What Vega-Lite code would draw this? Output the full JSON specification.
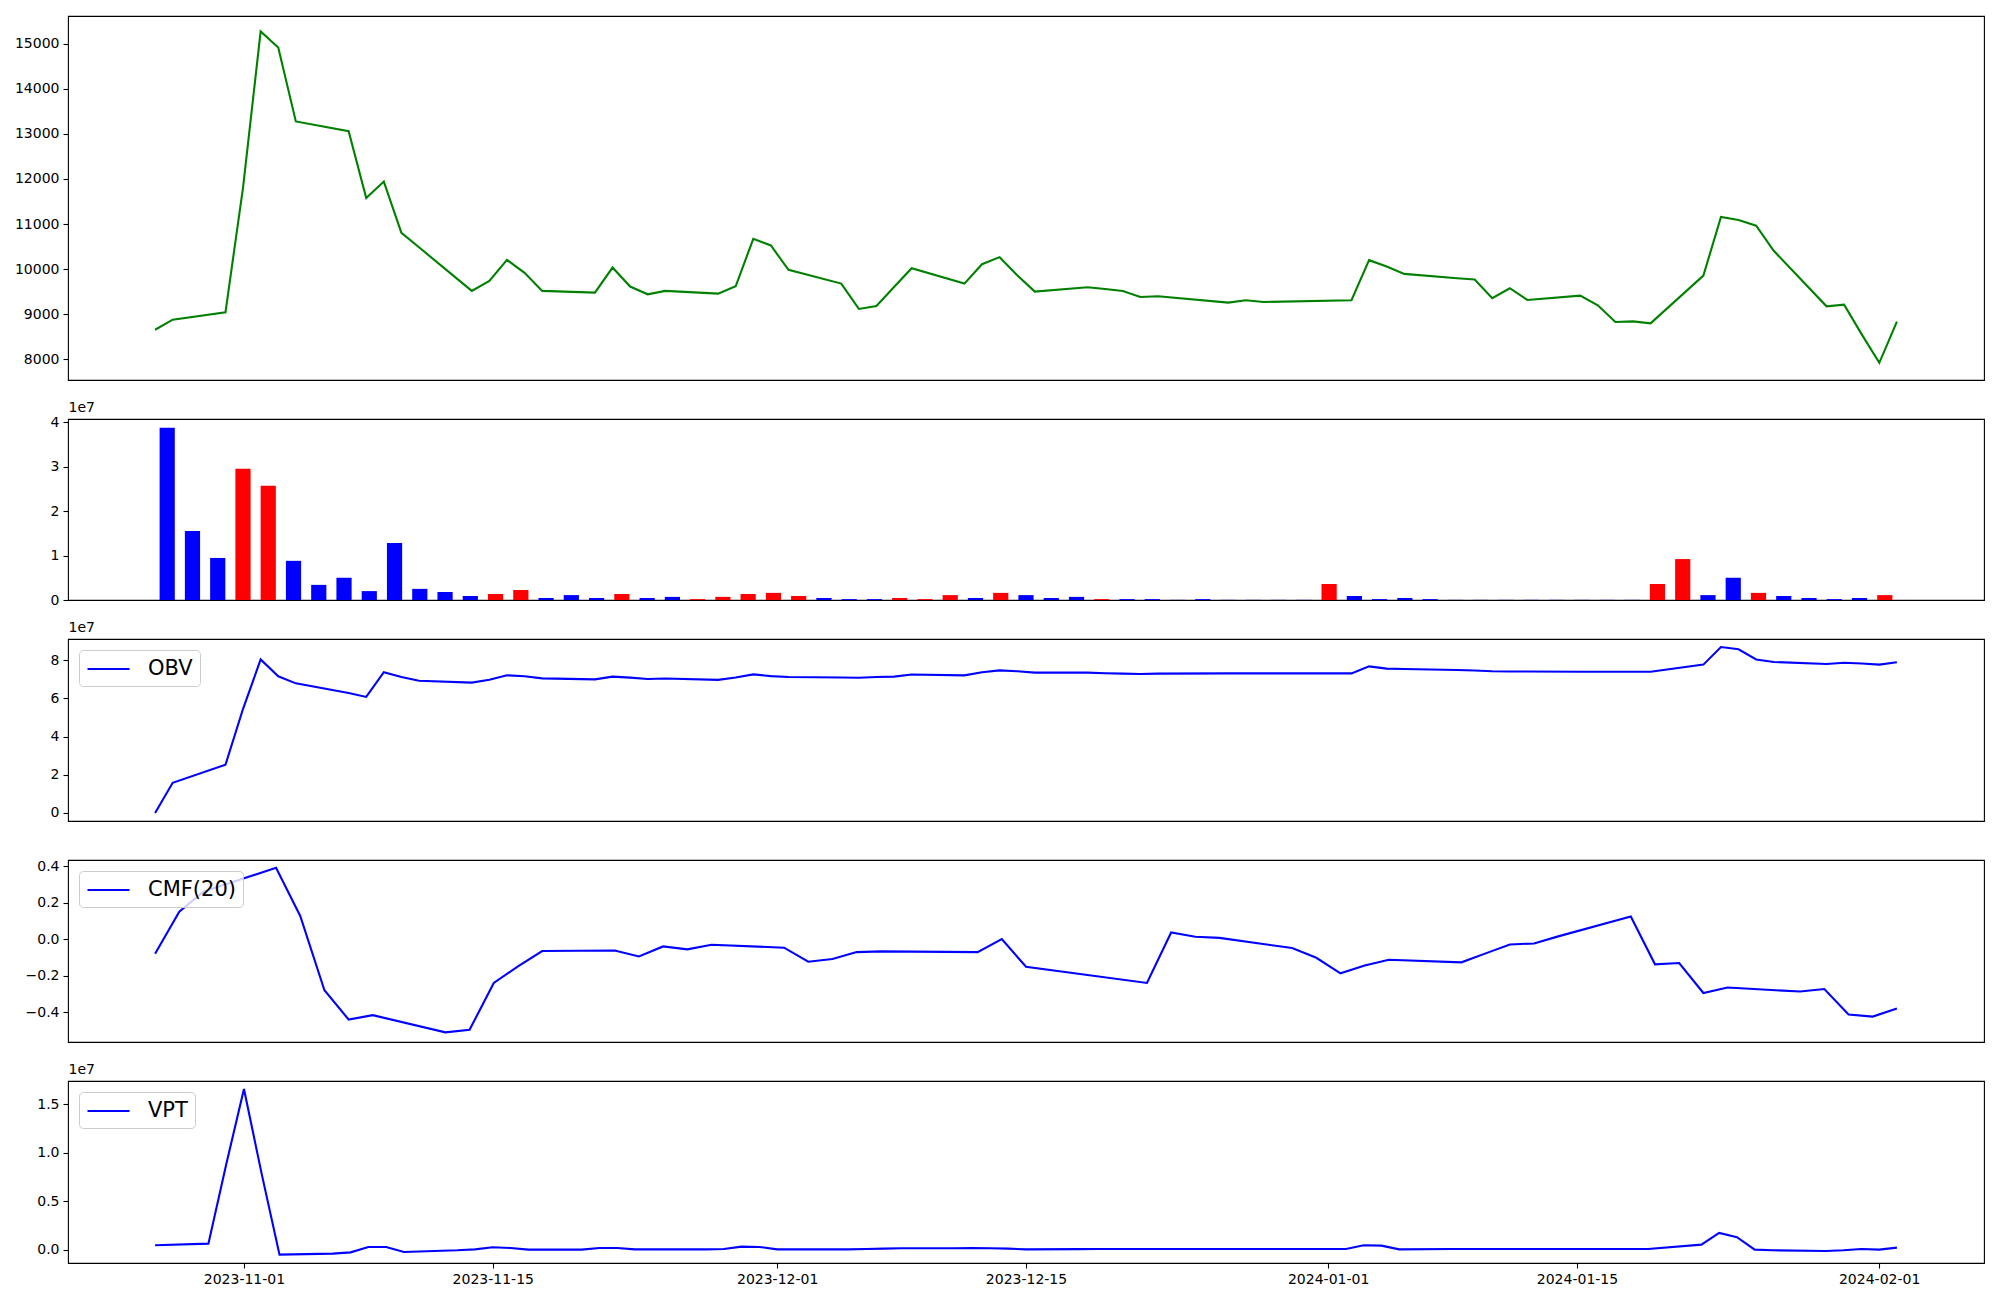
{
"$schema": "https://vega.github.io/schema/vega-lite/v6.json",
"background": "white",
"padding": {"left": 13, "top": 15, "right": 5, "bottom": 5},
"spacing": 39,
"bounds": "flush",
"datasets": {"t": [
{"date":"2023-10-26","close":8659,"volume":38700000,"dir":"down","obv":0,"cmf":null,"vpt":null},
{"date":"2023-10-27","close":8881,"volume":15500000,"dir":"down","obv":15800000,"cmf":null,"vpt":450000},
{"date":"2023-10-30","close":9044,"volume":9450000,"dir":"down","obv":25200000,"cmf":null,"vpt":620000},
{"date":"2023-10-31","close":11815,"volume":29500000,"dir":"up","obv":54500000,"cmf":null,"vpt":8800000},
{"date":"2023-11-01","close":15267,"volume":25700000,"dir":"up","obv":80300000,"cmf":null,"vpt":16600000},
{"date":"2023-11-02","close":14911,"volume":8800000,"dir":"down","obv":71500000,"cmf":null,"vpt":7800000},
{"date":"2023-11-03","close":13274,"volume":3400000,"dir":"down","obv":67800000,"cmf":null,"vpt":-520000},
{"date":"2023-11-06","close":13059,"volume":5000000,"dir":"down","obv":62800000,"cmf":null,"vpt":-410000},
{"date":"2023-11-07","close":11578,"volume":2000000,"dir":"down","obv":60700000,"cmf":null,"vpt":-280000},
{"date":"2023-11-08","close":11941,"volume":12800000,"dir":"down","obv":73600000,"cmf":null,"vpt":280000},
{"date":"2023-11-09","close":10807,"volume":2500000,"dir":"down","obv":71100000,"cmf":null,"vpt":280000},
{"date":"2023-11-10","close":10485,"volume":1800000,"dir":"down","obv":69200000,"cmf":null,"vpt":-240000},
{"date":"2023-11-13","close":9519,"volume":900000,"dir":"down","obv":68200000,"cmf":null,"vpt":-70000},
{"date":"2023-11-14","close":9741,"volume":1350000,"dir":"up","obv":69700000,"cmf":null,"vpt":30000},
{"date":"2023-11-15","close":10207,"volume":2250000,"dir":"up","obv":72000000,"cmf":null,"vpt":240000},
{"date":"2023-11-16","close":9919,"volume":450000,"dir":"down","obv":71500000,"cmf":null,"vpt":170000},
{"date":"2023-11-17","close":9519,"volume":1100000,"dir":"down","obv":70400000,"cmf":null,"vpt":0},
{"date":"2023-11-20","close":9481,"volume":450000,"dir":"down","obv":69900000,"cmf":null,"vpt":0},
{"date":"2023-11-21","close":10037,"volume":1350000,"dir":"up","obv":71300000,"cmf":null,"vpt":170000},
{"date":"2023-11-22","close":9615,"volume":450000,"dir":"down","obv":70800000,"cmf":-0.08,"vpt":170000},
{"date":"2023-11-23","close":9444,"volume":700000,"dir":"down","obv":70100000,"cmf":0.15,"vpt":30000},
{"date":"2023-11-24","close":9519,"volume":200000,"dir":"up","obv":70300000,"cmf":0.26,"vpt":30000},
{"date":"2023-11-27","close":9459,"volume":700000,"dir":"up","obv":69600000,"cmf":0.39,"vpt":30000},
{"date":"2023-11-28","close":9622,"volume":1350000,"dir":"up","obv":70900000,"cmf":0.127,"vpt":70000},
{"date":"2023-11-29","close":10674,"volume":1600000,"dir":"up","obv":72500000,"cmf":-0.28,"vpt":310000},
{"date":"2023-11-30","close":10526,"volume":900000,"dir":"up","obv":71600000,"cmf":-0.44,"vpt":280000},
{"date":"2023-12-01","close":9985,"volume":450000,"dir":"down","obv":71100000,"cmf":-0.416,"vpt":30000},
{"date":"2023-12-04","close":9681,"volume":200000,"dir":"down","obv":70900000,"cmf":-0.51,"vpt":30000},
{"date":"2023-12-05","close":9119,"volume":200000,"dir":"down","obv":70700000,"cmf":-0.496,"vpt":30000},
{"date":"2023-12-06","close":9185,"volume":450000,"dir":"up","obv":71100000,"cmf":-0.24,"vpt":70000},
{"date":"2023-12-07","close":9604,"volume":200000,"dir":"up","obv":71300000,"cmf":-0.149,"vpt":100000},
{"date":"2023-12-08","close":10022,"volume":1100000,"dir":"up","obv":72400000,"cmf":-0.065,"vpt":140000},
{"date":"2023-12-11","close":9681,"volume":450000,"dir":"down","obv":72000000,"cmf":-0.062,"vpt":140000},
{"date":"2023-12-12","close":10111,"volume":1600000,"dir":"up","obv":73600000,"cmf":-0.095,"vpt":170000},
{"date":"2023-12-13","close":10267,"volume":1100000,"dir":"down","obv":74600000,"cmf":-0.04,"vpt":140000},
{"date":"2023-12-14","close":9867,"volume":450000,"dir":"down","obv":74100000,"cmf":-0.056,"vpt":100000},
{"date":"2023-12-15","close":9504,"volume":700000,"dir":"down","obv":73400000,"cmf":-0.031,"vpt":30000},
{"date":"2023-12-18","close":9600,"volume":200000,"dir":"up","obv":73400000,"cmf":-0.047,"vpt":50000},
{"date":"2023-12-19","close":9560,"volume":200000,"dir":"down","obv":73100000,"cmf":-0.124,"vpt":70000},
{"date":"2023-12-20","close":9519,"volume":200000,"dir":"down","obv":72900000,"cmf":-0.109,"vpt":70000},
{"date":"2023-12-21","close":9385,"volume":30000,"dir":"down","obv":72700000,"cmf":-0.071,"vpt":70000},
{"date":"2023-12-22","close":9400,"volume":200000,"dir":"down","obv":72900000,"cmf":-0.067,"vpt":70000},
{"date":"2023-12-26","close":9259,"volume":30000,"dir":"down","obv":73000000,"cmf":-0.071,"vpt":70000},
{"date":"2023-12-27","close":9311,"volume":30000,"dir":"down","obv":73000000,"cmf":0.0,"vpt":70000},
{"date":"2023-12-28","close":9274,"volume":30000,"dir":"down","obv":73000000,"cmf":-0.151,"vpt":70000},
{"date":"2024-01-02","close":9311,"volume":30000,"dir":"down","obv":73000000,"cmf":-0.24,"vpt":70000},
{"date":"2024-01-03","close":10200,"volume":3600000,"dir":"up","obv":76700000,"cmf":0.036,"vpt":450000},
{"date":"2024-01-04","close":10059,"volume":900000,"dir":"down","obv":75500000,"cmf":0.013,"vpt":410000},
{"date":"2024-01-05","close":9896,"volume":200000,"dir":"down","obv":75300000,"cmf":0.007,"vpt":30000},
{"date":"2024-01-08","close":9800,"volume":450000,"dir":"down","obv":74800000,"cmf":-0.049,"vpt":70000},
{"date":"2024-01-09","close":9770,"volume":200000,"dir":"down","obv":74500000,"cmf":-0.102,"vpt":70000},
{"date":"2024-01-10","close":9356,"volume":30000,"dir":"down","obv":74100000,"cmf":-0.187,"vpt":70000},
{"date":"2024-01-11","close":9578,"volume":30000,"dir":"down","obv":74000000,"cmf":-0.144,"vpt":70000},
{"date":"2024-01-12","close":9319,"volume":30000,"dir":"down","obv":74000000,"cmf":-0.113,"vpt":70000},
{"date":"2024-01-15","close":9415,"volume":30000,"dir":"down","obv":73900000,"cmf":-0.127,"vpt":70000},
{"date":"2024-01-16","close":9200,"volume":30000,"dir":"down","obv":73900000,"cmf":-0.078,"vpt":70000},
{"date":"2024-01-17","close":8830,"volume":30000,"dir":"down","obv":73900000,"cmf":-0.029,"vpt":70000},
{"date":"2024-01-18","close":8844,"volume":30000,"dir":"down","obv":73900000,"cmf":-0.024,"vpt":70000},
{"date":"2024-01-19","close":8800,"volume":30000,"dir":"down","obv":73900000,"cmf":0.015,"vpt":70000},
{"date":"2024-01-22","close":9859,"volume":3600000,"dir":"up","obv":77600000,"cmf":0.124,"vpt":520000},
{"date":"2024-01-23","close":11156,"volume":9200000,"dir":"up","obv":86800000,"cmf":-0.138,"vpt":1720000},
{"date":"2024-01-24","close":11089,"volume":1100000,"dir":"down","obv":85600000,"cmf":-0.131,"vpt":1280000},
{"date":"2024-01-25","close":10963,"volume":5000000,"dir":"down","obv":80300000,"cmf":-0.295,"vpt":0},
{"date":"2024-01-26","close":10407,"volume":1600000,"dir":"up","obv":79000000,"cmf":-0.265,"vpt":-70000},
{"date":"2024-01-29","close":9178,"volume":900000,"dir":"down","obv":77900000,"cmf":-0.287,"vpt":-140000},
{"date":"2024-01-30","close":9215,"volume":450000,"dir":"down","obv":78600000,"cmf":-0.273,"vpt":-70000},
{"date":"2024-01-31","close":8556,"volume":200000,"dir":"down","obv":78200000,"cmf":-0.413,"vpt":70000},
{"date":"2024-02-01","close":7926,"volume":450000,"dir":"down","obv":77600000,"cmf":-0.424,"vpt":0},
{"date":"2024-02-02","close":8837,"volume":1100000,"dir":"up","obv":78800000,"cmf":-0.38,"vpt":210000}
]},
"vconcat": [
{
 "width": 1916, "height": 364,
 "data": {"name": "t"},
 "mark": {"type": "line", "color": "green", "strokeWidth": 2.1},
 "encoding": {
  "x": {"field": "date", "type": "temporal", "scale": {"type": "utc", "domain": [{"year":2023,"month":10,"date":21,"hours":1,"minutes":12,"utc":true},{"year":2024,"month":2,"date":6,"hours":22,"minutes":48,"utc":true}]}, "axis": null},
  "y": {"field": "close", "type": "quantitative", "scale": {"domain": [7545, 15610], "nice": false, "zero": false}, "axis": {"title": null, "values": [8000,9000,10000,11000,12000,13000,14000,15000], "format": "d"}}
 }
},
{
 "width": 1916, "height": 181,
 "data": {"name": "t"},
 "transform": [{"window": [{"op": "row_number", "as": "n"}], "sort": [{"field": "date", "order": "ascending"}]}],
 "mark": {"type": "bar", "size": 15.2},
 "encoding": {
  "x": {"field": "n", "type": "quantitative", "scale": {"domain": [-2.73, 72.73], "nice": false, "zero": false}, "axis": null},
  "y": {"field": "volume", "type": "quantitative", "scale": {"domain": [0, 40680000], "nice": false}, "axis": {"values": [0,10000000,20000000,30000000,40000000], "labelExpr": "format(datum.value/1e7,'d')", "title": "1e7", "titleAngle": 0, "titleX": 0, "titleY": -5, "titleAlign": "left", "titleBaseline": "bottom", "titleFontWeight": "normal", "titleFontSize": 14, "titleColor": "black"}},
  "color": {"field": "dir", "type": "nominal", "scale": {"domain": ["up", "down"], "range": ["red", "blue"]}, "legend": null}
 }
},
{
 "width": 1916, "height": 182,
 "data": {"name": "t"},
 "mark": {"type": "line", "strokeWidth": 2.1},
 "encoding": {
  "x": {"field": "date", "type": "temporal", "scale": {"type": "utc", "domain": [{"year":2023,"month":10,"date":21,"hours":1,"minutes":12,"utc":true},{"year":2024,"month":2,"date":6,"hours":22,"minutes":48,"utc":true}]}, "axis": null},
  "y": {"field": "obv", "type": "quantitative", "scale": {"domain": [-4200000, 91000000], "nice": false, "zero": false}, "axis": {"values": [0,20000000,40000000,60000000,80000000], "labelExpr": "format(datum.value/1e7,'d')", "title": "1e7", "titleAngle": 0, "titleX": 0, "titleY": -5, "titleAlign": "left", "titleBaseline": "bottom", "titleFontWeight": "normal", "titleFontSize": 14, "titleColor": "black"}},
  "color": {"datum": "OBV", "type": "nominal", "scale": {"range": ["blue"]}, "legend": {"title": null}}
 }
},
{
 "width": 1916, "height": 182,
 "data": {"name": "t"},
 "mark": {"type": "line", "strokeWidth": 2.1},
 "encoding": {
  "x": {"field": "date", "type": "temporal", "scale": {"type": "utc", "domain": [{"year":2023,"month":11,"date":18,"hours":9,"minutes":36,"utc":true},{"year":2024,"month":2,"date":5,"hours":14,"minutes":24,"utc":true}]}, "axis": null},
  "y": {"field": "cmf", "type": "quantitative", "scale": {"domain": [-0.563, 0.433], "nice": false, "zero": false}, "axis": {"title": null, "values": [-0.4,-0.2,0,0.2,0.4], "format": ".1f"}},
  "color": {"datum": "CMF(20)", "type": "nominal", "scale": {"range": ["blue"]}, "legend": {"title": null}}
 }
},
{
 "width": 1916, "height": 182,
 "data": {"name": "t"},
 "mark": {"type": "line", "strokeWidth": 2.1},
 "encoding": {
  "x": {"field": "date", "type": "temporal", "scale": {"type": "utc", "domain": [{"year":2023,"month":10,"date":22,"hours":2,"minutes":24,"utc":true},{"year":2024,"month":2,"date":6,"hours":21,"minutes":36,"utc":true}]}, "axis": {"title": null, "format": "%Y-%m-%d", "values": [{"year":2023,"month":11,"date":1,"utc":true},{"year":2023,"month":11,"date":15,"utc":true},{"year":2023,"month":12,"date":1,"utc":true},{"year":2023,"month":12,"date":15,"utc":true},{"year":2024,"month":1,"date":1,"utc":true},{"year":2024,"month":1,"date":15,"utc":true},{"year":2024,"month":2,"date":1,"utc":true}]}},
  "y": {"field": "vpt", "type": "quantitative", "scale": {"domain": [-1380000, 17420000], "nice": false, "zero": false}, "axis": {"values": [0,5000000,10000000,15000000], "labelExpr": "format(datum.value/1e7,'.1f')", "title": "1e7", "titleAngle": 0, "titleX": 0, "titleY": -5, "titleAlign": "left", "titleBaseline": "bottom", "titleFontWeight": "normal", "titleFontSize": 14, "titleColor": "black"}},
  "color": {"datum": "VPT", "type": "nominal", "scale": {"range": ["blue"]}, "legend": {"title": null}}
 }
}
],
"resolve": {"scale": {"color": "independent", "x": "independent", "y": "independent"}, "legend": {"color": "independent"}},
"config": {
 "font": "DejaVu Sans",
 "view": {"stroke": "black", "strokeWidth": 1.1},
 "axis": {"domain": false, "grid": false, "ticks": true, "tickColor": "black", "tickSize": 5, "tickWidth": 1.1, "labelColor": "black", "labelFont": "DejaVu Sans", "labelFontSize": 14, "labelPadding": 4, "titleFont": "DejaVu Sans"},
 "legend": {"orient": "top-left", "offset": 11, "fillColor": "rgba(255,255,255,0.8)", "strokeColor": "#cccccc", "cornerRadius": 4, "padding": 7, "labelFont": "DejaVu Sans", "labelFontSize": 21, "labelColor": "black", "symbolType": "M-1,0H3", "symbolSize": 441, "symbolStrokeWidth": 2.1, "labelOffset": 38}
}
}
